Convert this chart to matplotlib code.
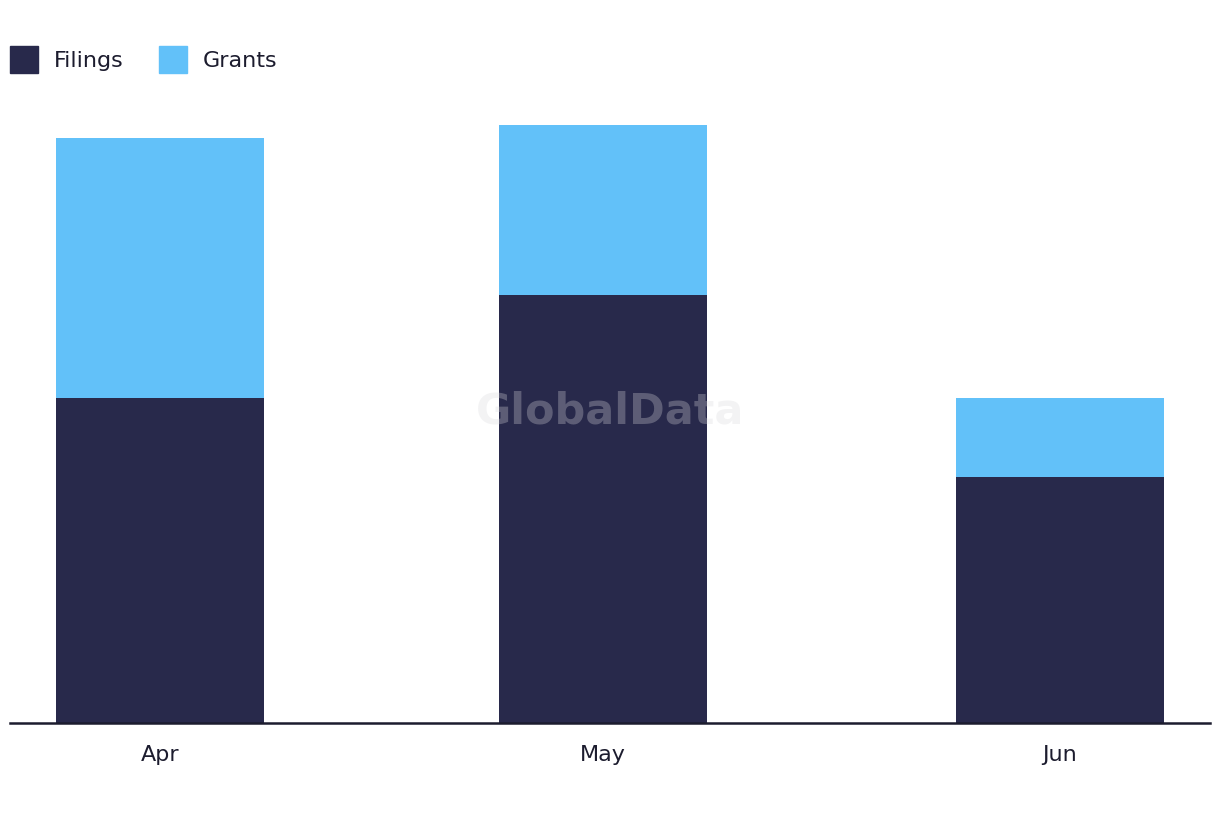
import datetime as dt

import matplotlib
matplotlib.use("Agg")
import matplotlib.dates as mdates
import matplotlib.pyplot as plt
from matplotlib.patches import Patch

months = [dt.date(2023, 4, 1), dt.date(2023, 5, 1), dt.date(2023, 6, 1)]
month_labels = ["Apr", "May", "Jun"]
filings = [41, 54, 31]
grants = [32.8, 21.4, 10]

DARK = "#28294b"
LIGHT = "#62c1f9"
TEXT = "#1c1c2e"

fig = plt.figure(figsize=(12.2, 8.22), dpi=100)
ax = fig.add_axes([10 / 1220, 99 / 822, 1200 / 1220, 623 / 822])

x = mdates.date2num(months)
width = 14.1
ax.bar(x, filings, width=width, color=DARK, zorder=2)
ax.bar(x, grants, bottom=filings, width=width, color=LIGHT, zorder=2)

ax.set_xlim(x[0] - 10.2, x[-1] + 10.2)
ax.set_ylim(0, 623 / 7.93)
ax.set_xticks(x)
ax.set_xticklabels(month_labels, fontsize=16, color=TEXT)
ax.tick_params(axis="x", length=0, pad=16)
ax.set_yticks([])
for side in ["top", "right", "left"]:
    ax.spines[side].set_visible(False)
ax.spines["bottom"].set_color(TEXT)
ax.spines["bottom"].set_linewidth(1.8)
ax.spines["bottom"].set_zorder(3)

# watermark
fig.text(610 / 1220, 1 - 411 / 822, "GlobalData", fontsize=31, fontweight="bold",
         color="#d8d8dc", alpha=0.3, ha="center", va="center", zorder=10)

handles = [Patch(color=DARK, label="Filings"), Patch(color=LIGHT, label="Grants")]
fig.legend(handles=handles, loc="upper left", bbox_to_anchor=(-3 / 1220, 1 - 33 / 822),
           ncol=2, frameon=False, fontsize=16, handlelength=1.25, handleheight=1.45,
           handletextpad=0.7, columnspacing=1.6, labelcolor=TEXT, borderaxespad=0.2)

fig.savefig("out.png", dpi=100)
